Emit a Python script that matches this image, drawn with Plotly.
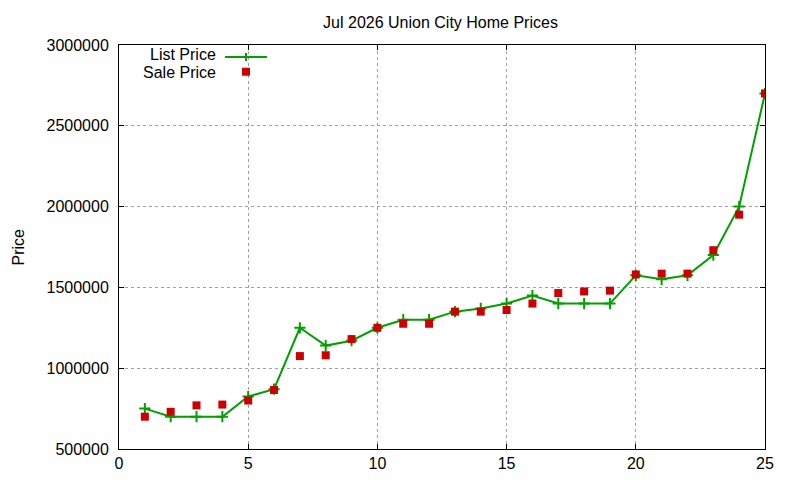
import plotly.graph_objects as go

months = list(range(1, 26))
list_price = [750000, 700000, 700000, 700000, 825000, 870000, 1250000, 1140000, 1170000, 1250000,
              1300000, 1300000, 1350000, 1370000, 1400000, 1450000, 1400000, 1400000, 1400000, 1575000,
              1550000, 1575000, 1700000, 2000000, 2700000]
sale_price = [700000, 730000, 770000, 775000, 800000, 865000, 1075000, 1080000, 1180000, 1250000,
              1275000, 1275000, 1350000, 1350000, 1360000, 1400000, 1465000, 1475000, 1480000, 1580000,
              1585000, 1585000, 1730000, 1950000, 2700000]
x_ticks = [0, 5, 10, 15, 20, 25]
y_ticks = [500000, 1000000, 1500000, 2000000, 2500000, 3000000]
title_text = "Jul 2026 Union City Home Prices"
y_title = "Price"
series_names = ["List Price", "Sale Price"]

GREEN = "#00a000"
RED = "#cc0000"
FONT = "Liberation Sans, Arial, sans-serif"

OFF = 8  # page body margin offset
W, H = 800, 480
# target plot area in page pixels: left 119, right 765, top 45, bottom 449
L, T = 119 - OFF, 45 - OFF
R, B = W + OFF - 765, H + OFF - 449
PW, PH = W - L - R, H - T - B

def px(xp):
    return (xp - OFF - L) / PW

def py(yp):
    return (H - B - (yp - OFF)) / PH

fig = go.Figure()
fig.add_trace(go.Scatter(
    x=months, y=list_price, mode="lines+markers", name=series_names[0],
    line=dict(color=GREEN, width=2),
    marker=dict(symbol="cross-thin", size=8, line=dict(color=GREEN, width=2), color=GREEN),
    showlegend=False,
))
fig.add_trace(go.Scatter(
    x=months, y=sale_price, mode="markers", name=series_names[1],
    marker=dict(symbol="square", size=8, color=RED, line=dict(width=0)),
    showlegend=False,
))

axis_common = dict(
    showline=True, linecolor="black", linewidth=1, mirror="ticks",
    ticks="inside", ticklen=5, tickcolor="black", tickwidth=1,
    showgrid=True, gridcolor="#a0a0a0", gridwidth=1, griddash="dot",
    zeroline=False, tickfont=dict(family=FONT, size=16, color="black"),
)
fig.update_xaxes(range=[0, 25], tickvals=x_ticks, ticktext=[str(v) for v in x_ticks], **axis_common)
fig.update_yaxes(range=[500000, 3000000], tickvals=y_ticks, ticktext=[str(v) for v in y_ticks],
                 ticklabelstandoff=6, **axis_common)

shapes = []
annotations = []
leg = [(series_names[0], 54.3), (series_names[1], 72.5)]
for name, yy in leg:
    annotations.append(dict(text=name, xref="paper", yref="paper", x=px(217), y=py(yy),
                            xanchor="right", yanchor="middle", showarrow=False,
                            borderpad=0,
                            font=dict(family=FONT, size=16, color="black")))
shapes.append(dict(type="line", xref="paper", yref="paper", x0=px(225), x1=px(267),
                   y0=py(57), y1=py(57), line=dict(color=GREEN, width=2)))
shapes.append(dict(type="line", xref="paper", yref="paper", x0=px(246), x1=px(246),
                   y0=py(53), y1=py(61), line=dict(color=GREEN, width=2)))
shapes.append(dict(type="rect", xref="paper", yref="paper", x0=px(242), x1=px(250),
                   y0=py(67.7), y1=py(75.7), line=dict(width=0), fillcolor=RED))
annotations.append(dict(text=y_title, xref="paper", yref="paper", x=px(17.5), y=py(247),
                        textangle=-90, xanchor="center", yanchor="middle", showarrow=False,
                        borderpad=0,
                        font=dict(family=FONT, size=16, color="black")))

fig.update_layout(
    width=W, height=H, margin=dict(l=L, r=R, t=T, b=B),
    paper_bgcolor="white", plot_bgcolor="white",
    title=dict(text=title_text, x=((323 + 558) / 2 - OFF) / W, xanchor="center",
               y=1 - (22.5 - OFF) / H, yanchor="middle", yref="container",
               font=dict(family=FONT, size=16, color="black")),
    shapes=shapes, annotations=annotations,
)

fig.write_html("out.html")
